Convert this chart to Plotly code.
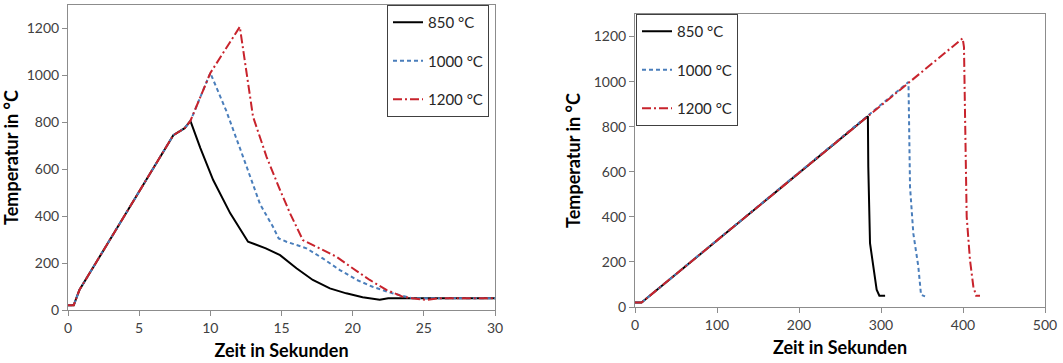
import plotly.graph_objects as go

# ---- Left chart (0-30 s) ----
t850_a = [0, 0.4, 0.8, 7.4, 8.2, 8.6, 9.3, 10.2, 11.4, 12.65, 13.9, 14.9, 16.05, 17.2, 18.4, 19.55, 20.7, 21.9, 22.5, 30]
T850_a = [20, 20, 85, 745, 775, 806, 690, 554, 412, 291, 263, 234, 178, 128, 92, 71, 54, 44, 50, 50]

t1000_a = [0, 0.4, 0.8, 7.4, 8.2, 8.6, 10.0, 11.1, 12.3, 13.5, 14.4, 14.8, 15.35, 16.75, 17.9, 19.1, 20.3, 21.4, 22.8, 24.2, 30]
T1000_a = [20, 20, 85, 745, 775, 806, 1010, 852, 653, 450, 355, 305, 291, 263, 220, 170, 128, 99, 71, 50, 50]

t1200_a = [0, 0.4, 0.8, 7.4, 8.2, 8.6, 10.0, 12.07, 13.0, 13.95, 14.9, 15.6, 16.5, 17.7, 18.86, 20.0, 21.2, 22.4, 23.5, 24.2, 25.2, 26.1, 30]
T1200_a = [20, 20, 85, 745, 775, 806, 1010, 1207, 824, 653, 511, 412, 298, 263, 227, 178, 128, 85, 57, 50, 43, 50, 50]

# ---- Right chart (0-500 s) ----
t850_b = [0, 8, 284, 284.5, 286.6, 290.6, 294.7, 298, 305]
T850_b = [20, 20, 846, 622, 283, 180, 77, 50, 50]

t1000_b = [0, 8, 333.5, 334.5, 335.4, 339.4, 345.5, 348.8, 353.7]
T1000_b = [20, 20, 998, 800, 533, 327, 180, 54, 47]

t1200_b = [0, 8, 399.6, 401.2, 402.4, 404.5, 408.5, 412.6, 415.9, 420.7]
T1200_b = [20, 20, 1192, 1153, 873, 401, 209, 91, 50, 50]

names = ["850 °C", "1000 °C", "1200 °C"]
colors = ["#000000", "#4a7ebb", "#c8232c"]
dashes = ["solid", "4px,3px", "9px,3px,2px,3px"]

FONT = "Lato"
fig = go.Figure()

left = [(t850_a, T850_a), (t1000_a, T1000_a), (t1200_a, T1200_a)]
right = [(t850_b, T850_b), (t1000_b, T1000_b), (t1200_b, T1200_b)]

for i, (x, y) in enumerate(left):
    fig.add_trace(go.Scatter(x=x, y=y, mode="lines", name=names[i],
                             line=dict(color=colors[i], width=2, dash=dashes[i]),
                             xaxis="x", yaxis="y", legend="legend",
                             legendgroup="a%d" % i))
for i, (x, y) in enumerate(right):
    fig.add_trace(go.Scatter(x=x, y=y, mode="lines", name=names[i],
                             line=dict(color=colors[i], width=2, dash=dashes[i]),
                             xaxis="x2", yaxis="y2", legend="legend2",
                             legendgroup="b%d" % i))

W, H = 1063, 363
def px(v):
    return v / W
def py(v):
    return 1 - v / H

axis_common = dict(showgrid=False, zeroline=False, showline=True, mirror=True,
                   linecolor="#8c8c8c", linewidth=1, ticks="outside", ticklen=5,
                   tickcolor="#8c8c8c", automargin=False,
                   tickfont=dict(family=FONT, size=14, color="#404040"))
title_font = dict(family=FONT, size=18, color="#000000", weight="bold")

legend_common = dict(font=dict(family=FONT, size=15, color="#262626"),
                     bordercolor="#404040", borderwidth=1, bgcolor="white",
                     tracegroupgap=16, xanchor="left", yanchor="top")

fig.update_layout(
    width=W, height=H, margin=dict(l=0, r=0, t=0, b=0, autoexpand=False),
    paper_bgcolor="white", plot_bgcolor="white", showlegend=True,
    xaxis=dict(domain=[px(68), px(495)], range=[0, 30], dtick=5, anchor="y",
               title=dict(text="Zeit in Sekunden", font=title_font, standoff=9), **axis_common),
    yaxis=dict(domain=[py(310), py(5)], range=[0, 1300], tickvals=[0, 200, 400, 600, 800, 1000, 1200], anchor="x",
               title=dict(text="Temperatur in °C", font=title_font, standoff=8), **axis_common),
    xaxis2=dict(domain=[px(635), px(1045)], range=[0, 500], dtick=100, anchor="y2",
                title=dict(text="Zeit in Sekunden", font=title_font, standoff=9), **axis_common),
    yaxis2=dict(domain=[py(307), py(14)], range=[0, 1300], tickvals=[0, 200, 400, 600, 800, 1000, 1200], anchor="x2",
                title=dict(text="Temperatur in °C", font=title_font, standoff=8), **axis_common),
    legend=dict(x=px(387), y=py(5), **legend_common),
    legend2=dict(x=px(636), y=py(14), **legend_common),
)

fig.write_html("out.html", config={"displayModeBar": False},
               post_script="document.body.style.margin='0px';document.body.style.overflow='hidden';")
